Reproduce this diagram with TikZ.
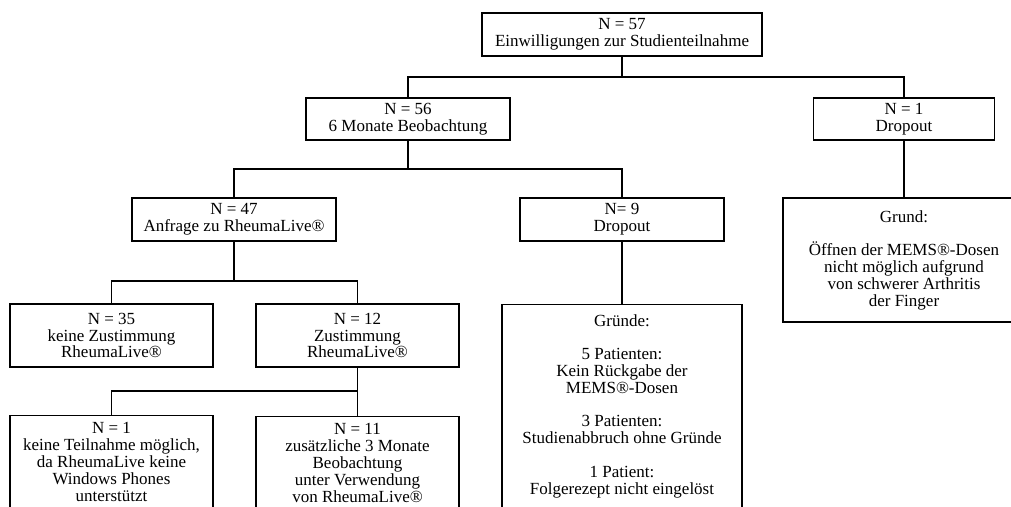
\documentclass[tikz,border=0pt]{standalone}
\usepackage{fontspec}
\setmainfont{Liberation Serif}
\usetikzlibrary{calc}
\begin{document}
\begin{tikzpicture}[x=1pt,y=-1pt,
  every node/.style={font=\fontsize{17pt}{16.8pt}\selectfont},
  box/.style={draw, line width=1.4pt, align=center, inner sep=0pt},
  txt/.style={align=center, inner sep=0pt, anchor=north},
  conn/.style={line width=1.4pt}]
\useasboundingbox (0,0) rectangle (1011,506);
\clip (0,0) rectangle (1011,506);
% boxes
\node[box, minimum width=280, minimum height=43] (top) at (622,34.5) {N = 57\\Einwilligungen zur Studienteilnahme};
\node[box, minimum width=204, minimum height=42] (n56) at (408,119) {N = 56\\6 Monate Beobachtung};
\node[box, minimum width=181, minimum height=42] (d1) at (904,119) {N = 1\\Dropout};
\node[box, minimum width=204, minimum height=43] (n47) at (234,219.5) {N = 47\\Anfrage zu RheumaLive®};
\node[box, minimum width=204, minimum height=43] (d9) at (622,219.5) {N= 9\\Dropout};
\node[box, minimum width=242, minimum height=124] (grund) at (904,260) {Grund:\\[16.8pt]Öffnen der MEMS®-Dosen\\nicht möglich aufgrund\\von schwerer Arthritis\\der Finger};
\node[box, minimum width=203, minimum height=63] (n35) at (111.5,335.5) {N = 35\\keine Zustimmung\\RheumaLive®};
\node[box, minimum width=203, minimum height=63] (n12) at (357.5,335.5) {N = 12\\Zustimmung\\RheumaLive®};
% cut-off boxes
\node[box, minimum width=203, minimum height=140, anchor=north] (n1) at (111.5,415) {};
\node[txt] at ([yshift=-7.5pt]n1.north) {N = 1\\keine Teilnahme möglich,\\da RheumaLive keine\\Windows Phones\\unterstützt};
\node[box, minimum width=203, minimum height=140, anchor=north] (n11) at (357.5,416) {};
\node[txt] at ([yshift=-7.5pt]n11.north) {N = 11\\zusätzliche 3 Monate\\Beobachtung\\unter Verwendung\\von RheumaLive®};
\node[box, minimum width=240, minimum height=260, anchor=north] (gr) at (622,304) {};
\node[txt] at ([yshift=-10pt]gr.north) {Gründe:\\[16.8pt]5 Patienten:\\Kein Rückgabe der\\MEMS®-Dosen\\[16.8pt]3 Patienten:\\Studienabbruch ohne Gründe\\[16.8pt]1 Patient:\\Folgerezept nicht eingelöst};
% connectors
\coordinate (j1) at (622,77);
\coordinate (j2) at (408,169);
\coordinate (j3) at (234,281);
\coordinate (j4) at (357.5,391);
\draw[conn] (top.south) -- (j1);
\draw[conn] (n56.north) |- (j1) -| (d1.north);
\draw[conn] (n56.south) -- (j2);
\draw[conn] (n47.north) |- (j2) -| (d9.north);
\draw[conn] (d1.south) -- (grund.north);
\draw[conn] (n47.south) -- (j3);
\draw[conn] (n35.north) |- (j3) -| (n12.north);
\draw[conn] (d9.south) -- (gr.north);
\draw[conn] (n12.south) -- (j4);
\draw[conn] (n1.north) |- (j4) -- (n11.north);
\end{tikzpicture}
\end{document}
